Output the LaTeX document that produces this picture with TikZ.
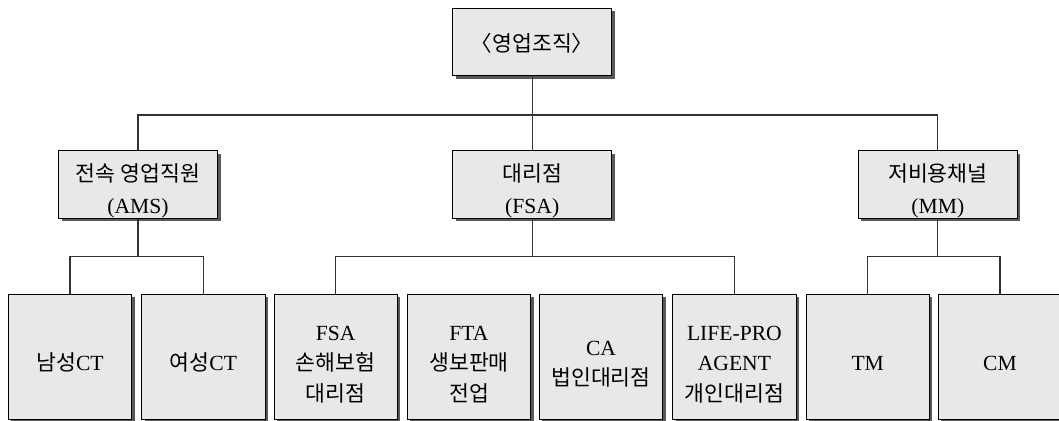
\documentclass[tikz,border=0pt]{standalone}
\usepackage{fontspec}
\setmainfont{Liberation Serif}
\newfontfamily\kr{Noto Sans CJK KR}
\usetikzlibrary{shadows}
\newcommand{\boxtext}[2][-4pt]{\raisebox{#1}[\height][\depth]{\begin{tabular}{@{}c@{}}#2\end{tabular}}}
\tikzset{
  box/.style={draw=black, line width=0.5pt, fill=black!9, inner sep=0pt,
    font=\fontsize{10.8}{15.2}\selectfont,
    drop shadow={shadow xshift=1.5pt, shadow yshift=-1.5pt, fill=black!65, opacity=1}},
  headbox/.style={box, minimum width=79.5pt, minimum height=33.8pt},
  leafbox/.style={box, minimum width=61.7pt, minimum height=62.6pt},
  link/.style={draw=black!80, line width=0.6pt}
}
\begin{document}
\begin{tikzpicture}[x=0.5pt, y=-0.5pt]
  \useasboundingbox (0,0) rectangle (1059,421);
  % organisation
  \node[headbox] (org) at (532.2,42.2) {\boxtext[-1.5pt]{{\kr 〈영업조직〉}}};
  % channels
  \node[headbox, font=\fontsize{10.8}{16}\selectfont] (ams) at (138,184.5) {\boxtext[-3.2pt]{{\kr 전속 영업직원}\\(AMS)}};
  \node[headbox, font=\fontsize{10.8}{16}\selectfont] (fsa) at (532.2,184.5) {\boxtext[-3.2pt]{{\kr 대리점}\\(FSA)}};
  \node[headbox, font=\fontsize{10.8}{16}\selectfont] (mm) at (937.8,184.5) {\boxtext[-3.2pt]{{\kr 저비용채널}\\(MM)}};
  % leaves
  \node[leafbox] (male)   at (70,356.7)    {\boxtext{{\kr 남성}CT}};
  \node[leafbox] (female) at (203.4,356.7) {\boxtext{{\kr 여성}CT}};
  \node[leafbox] (fsaa)   at (335.7,356.7) {\boxtext{FSA\\{\kr 손해보험}\\{\kr 대리점}}};
  \node[leafbox] (fta)    at (469,356.7)   {\boxtext{FTA\\{\kr 생보판매}\\{\kr 전업}}};
  \node[leafbox] (ca)     at (601,356.7)   {\boxtext{CA\\{\kr 법인대리점}}};
  \node[leafbox] (life)   at (734.4,356.7) {\boxtext{LIFE-PRO\\AGENT\\{\kr 개인대리점}}};
  \node[leafbox] (tm)     at (867.7,356.7) {\boxtext{TM}};
  \node[leafbox] (cm)     at (1000,356.7)  {\boxtext{CM}};
  % connectors
  \coordinate (bus) at (532.2,115);
  \draw[link] (org) -- (bus);
  \draw[link] (ams) |- (bus) -| (mm);
  \draw[link] (bus) -- (fsa);
  \draw[link] (ams.south) -- ++(0,37.7) coordinate (ja);
  \draw[link] (male) |- (ja) -| (female);
  \draw[link] (fsa.south) -- ++(0,37.7) coordinate (jf);
  \draw[link] (fsaa) |- (jf) -| (life);
  \draw[link] (mm.south) -- ++(0,37.7) coordinate (jm);
  \draw[link] (tm) |- (jm) -| (cm);
\end{tikzpicture}
\end{document}
